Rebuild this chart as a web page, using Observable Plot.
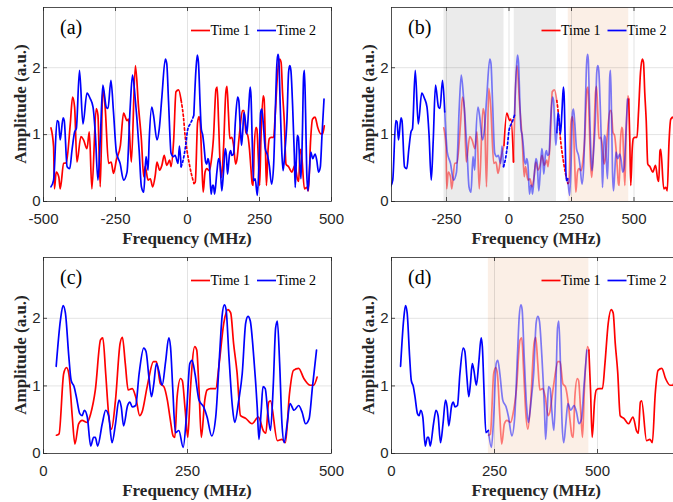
<!DOCTYPE html>
<html><head><meta charset="utf-8">
<script src="https://cdn.jsdelivr.net/npm/d3@7"></script>
<script src="https://cdn.jsdelivr.net/npm/@observablehq/plot@0.6"></script>
<style>
html,body{margin:0;padding:0;overflow:hidden;background:#fff;}
#fig{position:relative;width:673px;height:502px;overflow:hidden;background:#fff;}
#fig svg{position:absolute;}
</style></head><body><div id="fig"></div>
<script>
// ---------- data (frequency MHz, amplitude a.u.) ----------
const seriesNames = ["Time 1", "Time 2"];
const panelLetters = ["(a)", "(b)", "(c)", "(d)"];
const shiftT1 = 213; // frequency offset of Time 1 in (b) and (d)

const time1Neg = [[-474,1.10],[-465,0.82],[-462,0.19],[-456,0.44],[-447,0.37],[-442,0.19],[-430,0.57],[-421,0.58],[-407,1.16],[-399,1.56],
 [-392,1.41],[-384,0.59],[-370,0.97],[-361,0.92],[-349,0.79],[-341,1.04],[-332,0.19],[-317,1.39],[-311,1.29],[-303,0.22],
 [-294,1.69],[-286,1.41],[-274,0.57],[-265,0.59],[-257,0.42],[-247,0.62],[-233,0.84],[-222,1.32],[-210,1.21],[-205,1.23],
 [-195,0.59],[-181,2.03],[-170,1.41],[-160,0.92],[-152,0.37],[-147,0.52],[-137,0.32],[-129,0.34],[-121,0.22],[-112,0.39],
 [-106,0.59],[-97,0.47],[-89,0.54],[-81,0.69],[-72,0.54],[-62,0.62],[-57,0.52],[-48,0.92],[-40,1.64],[-31,1.67],[-22,1.51]];
const time1Gap = [[-22,1.51],[-14,1.26],[-8,0.97],[-2,0.77],[6,0.57],[13,0.42],[22.5,0.27]];
const time1Pos = [[22.5,0.27],[27,0.29],[35,1.18],[40,1.27],[44,1.18],[50,0.54],[54.5,0.14],[61,0.44],[67,0.49],[76,0.46],
 [82,0.59],[90,0.94],[99,1.68],[103,1.71],[108,1.18],[113,0.59],[118,0.36],[125,0.79],[133,1.63],[137,1.72],
 [142,1.33],[147,0.94],[154,0.96],[160,0.84],[167,0.56],[171,0.61],[180,0.99],[191,1.36],[196,1.36],[203,1.03],
 [209,0.99],[215,0.79],[220,0.51],[225,0.26],[228,0.24],[232,0.84],[238,1.11],[241,1.08],[246,0.64],[250.5,0.24],
 [255,0.94],[262.5,1.58],[266,1.53],[270,0.94],[274,0.24],[280,0.79],[284,0.94],[290,0.96],[299,0.96],[305,1.33],
 [313,1.93],[320,2.13],[325,2.08],[330,1.63],[336,1.20],[342,0.56],[351,0.52],[362,0.44],[373,0.54],[382,0.33],
 [386,0.30],[391,0.76],[394,0.78],[406,0.19],[414,0.21],[420,0.16],[427,0.88],[434,1.23],[443,1.26],[452,1.11],
 [463,1.01],[469,1.01],[475,1.13]];

const time2Neg = [[-474,0.22],[-465,0.32],[-453,1.21],[-448,1.19],[-442,0.92],[-432,1.25],[-428,1.21],[-418,0.52],[-409,0.49],[-401,0.77],
 [-392,1.04],[-386,1.09],[-375,1.96],[-363,1.16],[-349,1.62],[-338,1.54],[-328,1.41],[-320,1.01],[-311,0.32],[-303,0.92],
 [-294,1.74],[-282,1.41],[-276,1.39],[-266,1.81],[-257,1.34],[-247,0.74],[-234,0.57],[-222,0.32],[-210,0.44],[-199,1.41],
 [-191,1.89],[-181,1.51],[-176,1.26],[-168,0.77],[-160,0.22],[-152,0.14],[-144,0.67],[-137,0.47],[-133,0.92],[-124,1.41],
 [-118,1.29],[-106,0.92],[-98,1.09],[-89,1.56],[-77,2.13],[-72,2.06],[-66,1.51],[-57,0.72],[-49,0.67],[-43,0.69],
 [-33,0.57],[-28,0.83],[-22,0.52]];
const time2Gap = [[-22,0.52],[-14,0.64],[-6,0.85],[0,1.06],[9,1.16],[15,1.21],[22,1.29]];
const time2Pos = [[22,1.29],[29.5,1.98],[34,2.19],[38,2.08],[44,1.43],[48,1.08],[53,0.99],[57,0.84],[63,0.59],[67,0.56],
 [71,0.64],[76,0.54],[82,0.11],[87,0.24],[90,0.24],[94,0.11],[102,0.44],[108,0.64],[113,0.56],[119,0.16],
 [125,0.44],[131,0.79],[135,0.69],[139,0.41],[146,0.71],[150,0.76],[154,0.69],[160,0.71],[166,1.18],[174,1.56],
 [178,1.51],[183,1.13],[187.5,0.84],[191.5,1.03],[196,1.33],[200,1.23],[206,1.01],[212,1.36],[217.5,1.71],[220.5,1.58],
 [224.5,0.94],[229,0.31],[235,0.34],[242.5,0.09],[248,0.54],[254,1.33],[258,1.38],[263,1.18],[270,0.79],[278,0.69],
 [284,0.54],[292,0.26],[299,0.54],[305.5,1.43],[310,2.03],[314,2.20],[317,2.13],[322,1.43],[328,0.69],[332,0.46],
 [339,0.79],[345,1.18],[351,1.93],[355,2.03],[359,1.96],[365,1.43],[371,0.69],[374,0.21],[378,0.64],[381,0.99],
 [385,0.96],[389,0.64],[394,0.34],[399,1.03],[403,1.86],[406,1.96],[410,1.33],[414,0.44],[418,0.16],[423,0.44],
 [428,0.74],[435,0.64],[443,0.71],[449,0.61],[455,0.44],[461,0.51],[467,0.99],[474,1.53]];

// overlap bands (MHz)
const grayBandsB = [[-260,-20],[21,190]];
const peachBandsB = [[237,479]];
const peachBandsD = [[235,479]];

const yTicks = [0, 1, 2];
const xTicksA = [-500, -250, 0, 250, 500];
const xTicksB = [-250, 0, 250, 500];
const xTicksC = [0, 250, 500];
const xTicksD = [0, 250, 500];

// ---------- styling ----------
const SERIF = "'Liberation Serif','Times New Roman',serif";
const SANS = "'Liberation Sans',Arial,sans-serif";
const RED = "#ff0000", BLUE = "#0000ff";
const LW = 1.7, FADE = 0.5;

function rows(pairs, shift = 0) { return pairs.map(([f, a]) => ({f: f + shift, a})); }
function split(pairs, shift, bands) {
  const pts = rows(pairs, shift);
  const out = {full: [], faded: []};
  let kind = null, id = 0;
  for (let i = 0; i < pts.length - 1; i++) {
    const mid = (pts[i].f + pts[i + 1].f) / 2;
    const k = bands.some(([a, b]) => mid >= a && mid <= b) ? "faded" : "full";
    if (k !== kind) { id++; kind = k; out[k].push({...pts[i], seg: id}); }
    out[k].push({...pts[i + 1], seg: id});
  }
  return out;
}
function lineMark(data, color, opacity, dashed) {
  return Plot.line(data, {x: "f", y: "a", z: d => d.seg ?? 0, stroke: color, strokeOpacity: opacity,
    strokeWidth: LW, strokeDasharray: dashed ? "2.2,2.4" : null, curve: "monotone-x", clip: true});
}
function splitMarks(pairs, shift, bands, color) {
  const s = split(pairs, shift, bands);
  return [lineMark(s.faded, color, FADE, false), lineMark(s.full, color, 1, false)];
}

const fig = document.getElementById("fig");

function panel(cfg) {
  const {left, top, width, height, ml, mr, mt, mb, domain, xticks, letter, bands, lines} = cfg;
  const pw = width - ml - mr, ph = height - mt - mb;
  const marks = [];
  (bands || []).forEach(b => marks.push(Plot.rect(b.data, {x1: d => d[0], x2: d => d[1], fill: b.fill})));
  marks.push(Plot.gridX(xticks, {stroke: "#000", strokeOpacity: 0.11, strokeWidth: 1}));
  marks.push(Plot.gridY([1, 2], {stroke: "#000", strokeOpacity: 0.11, strokeWidth: 1}));
  marks.push(...lines);
  marks.push(Plot.tickX(xticks, {x: d => d, insetTop: ph - 4, stroke: "#262626", strokeWidth: 0.8}));
  marks.push(Plot.tickX(xticks, {x: d => d, insetBottom: ph - 4, stroke: "#262626", strokeWidth: 0.8}));
  marks.push(Plot.tickY(yTicks, {y: d => d, insetRight: pw - 4, stroke: "#262626", strokeWidth: 0.8}));
  marks.push(Plot.axisX(xticks, {tickSize: 0, tickPadding: 12, tickFormat: d => String(d), label: null, fill: "#262626"}));
  marks.push(Plot.axisY(yTicks, {tickSize: 0, tickPadding: 3, tickFormat: d => String(d), label: null, fill: "#262626"}));
  marks.push(Plot.frame({stroke: "#262626", strokeWidth: 0.8}));
  const svg = Plot.plot({
    width, height, marginLeft: ml, marginRight: mr, marginTop: mt, marginBottom: mb,
    x: {domain, type: "linear"}, y: {domain: [0, 2.9], type: "linear"},
    style: {fontFamily: SANS, fontSize: "15px", color: "#262626", background: "none", overflow: "visible"},
    marks
  });
  svg.style.left = left + "px";
  svg.style.top = top + "px";
  const s = d3.select(svg);
  const L = ml, R = ml + pw, T = mt, B = mt + ph;
  s.append("text").attr("x", L + 17).attr("y", T + 27).attr("text-anchor", "start").attr("font-family", SERIF)
    .attr("font-size", 20).attr("fill", "#000").text(letter);
  s.append("text").attr("transform", `translate(${L - 22.5},${(T + B) / 2}) rotate(-90)`)
    .attr("text-anchor", "middle").attr("dy", "0.33em").attr("font-family", SERIF)
    .attr("font-weight", "bold").attr("font-size", 17).attr("fill", "#262626").text("Amplitude (a.u.)");
  s.append("text").attr("x", (L + R) / 2).attr("y", B + 42.5).attr("text-anchor", "middle")
    .attr("font-family", SERIF).attr("font-weight", "bold").attr("font-size", 17)
    .attr("fill", "#262626").text("Frequency (MHz)");
  const ly = T + 23.5;
  const items = [[R - 140, RED, seriesNames[0]], [R - 74, BLUE, seriesNames[1]]];
  items.forEach(([x0, c, name]) => {
    s.append("line").attr("x1", x0).attr("x2", x0 + 19).attr("y1", ly).attr("y2", ly)
      .attr("stroke", c).attr("stroke-width", LW);
    s.append("text").attr("x", x0 + 19.5).attr("y", ly).attr("dy", "0.33em").attr("text-anchor", "start")
      .attr("font-family", SERIF).attr("font-size", 14).attr("fill", "#000").text(name);
  });
  fig.appendChild(svg);
}

const common = {ml: 43, mr: 9, mt: 7, mb: 49};
const overlapB = [...grayBandsB, ...peachBandsB];

// (a)
panel({...common, left: 0, top: 0, width: 340, height: 250, domain: [-500, 500], xticks: xTicksA, letter: panelLetters[0],
  lines: [
    lineMark(rows(time1Neg), RED, 1), lineMark(rows(time1Gap), RED, 1, true), lineMark(rows(time1Pos), RED, 1),
    lineMark(rows(time2Neg), BLUE, 1), lineMark(rows(time2Gap), BLUE, 1, true), lineMark(rows(time2Pos), BLUE, 1)
  ]});
// (c)
panel({...common, left: 0, top: 250, width: 340, height: 252, domain: [0, 500], xticks: xTicksC, letter: panelLetters[2],
  lines: [lineMark(rows(time1Pos), RED, 1), lineMark(rows(time2Pos), BLUE, 1)]});
// (b)
panel({...common, left: 348, top: 0, width: 342.5, height: 250, domain: [-470, 692], xticks: xTicksB, letter: panelLetters[1],
  bands: [{data: grayBandsB, fill: "#ebebeb"}, {data: peachBandsB, fill: "#fbefe6"}],
  lines: [
    ...splitMarks(time1Neg, shiftT1, overlapB, RED), lineMark(rows(time1Gap, shiftT1), RED, 1, true),
    ...splitMarks(time1Pos, shiftT1, overlapB, RED),
    ...splitMarks(time2Neg, 0, overlapB, BLUE), lineMark(rows(time2Gap), BLUE, 1, true),
    ...splitMarks(time2Pos, 0, overlapB, BLUE)
  ]});
// (d)
panel({...common, left: 348, top: 250, width: 342.5, height: 252, domain: [0, 705], xticks: xTicksD, letter: panelLetters[3],
  bands: [{data: peachBandsD, fill: "#fbefe6"}],
  lines: [...splitMarks(time1Pos, shiftT1, peachBandsD, RED), ...splitMarks(time2Pos, 0, peachBandsD, BLUE)]});
</script></body></html>
